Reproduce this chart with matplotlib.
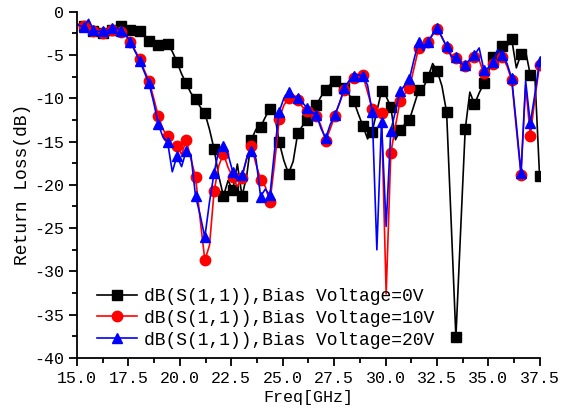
import matplotlib
matplotlib.use("Agg")
import matplotlib.pyplot as plt
import numpy as np

# sweep points where the markers sit, and the half-step points between them
freq_mark = np.linspace(15.34, 37.49, 50)
freq_mid = freq_mark - 0.226
freq_mid[0] = 15.0

# S11 (dB) at the marker points
s11_0v_mark = [-1.7, -2.3, -2.5, -2.1, -1.7, -2.1, -2.3, -3.4, -3.9, -3.8,
               -5.8, -8.3, -10.1, -11.7, -15.9, -21.3, -20.6, -21.3, -14.8, -13.3,
               -11.2, -15.1, -18.7, -14.0, -12.5, -10.8, -9.1, -8.0, -8.85, -10.3,
               -13.2, -13.85, -9.2, -11.0, -13.7, -12.5, -9.1, -7.6, -6.9, -11.6,
               -37.6, -13.6, -10.7, -8.3, -5.2, -4.0, -3.2, -4.9, -7.3, -19.0]
s11_10v_mark = [-1.7, -2.2, -2.5, -2.1, -2.4, -3.5, -5.5, -8.0, -12.1, -14.4,
                -15.5, -14.8, -19.1, -28.7, -20.7, -16.4, -19.1, -19.2, -15.5, -19.4,
                -22.0, -12.4, -10.0, -10.2, -11.5, -12.0, -14.9, -12.0, -9.0, -7.7,
                -7.35, -11.2, -11.7, -16.35, -10.3, -8.85, -4.2, -3.5, -2.0, -4.15,
                -5.4, -6.3, -5.3, -7.1, -6.1, -5.2, -7.9, -18.85, -14.35, -6.15]
s11_20v_mark = [-1.8, -2.1, -2.2, -1.9, -2.2, -3.5, -5.7, -8.3, -13.0, -15.1,
                -16.7, -16.05, -21.3, -26.05, -18.6, -15.5, -18.5, -18.9, -16.05, -21.35,
                -21.2, -11.55, -9.3, -10.0, -11.15, -11.9, -14.6, -11.9, -8.85, -7.4,
                -7.4, -11.6, -12.7, -13.75, -9.2, -7.8, -3.5, -3.5, -1.9, -4.0,
                -5.3, -6.15, -5.0, -6.7, -5.8, -5.0, -7.7, -18.65, -12.9, -5.7]

# S11 (dB) at the points in between
s11_0v_mid = [-1.5, -2.0, -2.4, -2.3, -1.9, -1.9, -2.2, -2.8, -3.7, -3.6,
              -4.6, -7.2, -9.4, -11.0, -13.6, -19.0, -19.5, -17.6, -19.0, -13.6,
              -12.2, -11.8, -17.2, -17.3, -13.2, -11.8, -9.8, -8.4, -8.2, -9.6,
              -11.8, -14.7, -11.5, -9.8, -14.8, -13.0, -10.8, -8.8, -6.0, -8.6,
              -24.5, -25.5, -9.3, -9.4, -7.0, -4.5, -4.0, -6.5, -4.6, -7.6]
s11_10v_mid = [-1.4, -1.9, -2.5, -2.4, -2.0, -2.8, -4.5, -6.8, -10.0, -13.6,
               -15.7, -16.5, -17.0, -24.0, -27.0, -17.8, -18.0, -20.2, -16.9, -17.6,
               -20.2, -17.5, -10.8, -9.6, -11.0, -11.2, -13.2, -13.5, -10.5, -8.2,
               -7.6, -9.3, -11.8, -32.6, -13.2, -9.5, -6.5, -4.0, -2.7, -2.9,
               -5.0, -6.0, -5.8, -5.6, -6.5, -5.6, -6.3, -13.5, -8.5, -10.0]
s11_20v_mid = [-1.5, -0.9, -2.3, -2.2, -1.9, -2.6, -4.6, -7.0, -10.5, -14.5,
               -18.5, -17.9, -16.5, -23.5, -22.0, -16.0, -16.5, -19.5, -17.0, -17.0,
               -20.5, -16.0, -10.0, -9.8, -10.5, -11.6, -13.5, -13.0, -10.5, -8.0,
               -7.3, -8.5, -27.5, -24.8, -11.5, -8.5, -5.5, -4.5, -2.6, -3.0,
               -5.2, -6.0, -5.5, -4.2, -6.5, -4.4, -6.0, -13.0, -8.0, -9.5]

labels = ["dB(S(1,1)),Bias Voltage=0V",
          "dB(S(1,1)),Bias Voltage=10V",
          "dB(S(1,1)),Bias Voltage=20V"]


def interleave(mid, mark):
    out = np.empty(2 * len(mark))
    out[0::2] = mid
    out[1::2] = mark
    return out


freq = interleave(freq_mid, freq_mark)

plt.rcParams['font.family'] = ['Liberation Mono', 'DejaVu Sans']
plt.rcParams['axes.unicode_minus'] = False

fig = plt.figure(figsize=(5.7, 4.13), dpi=100)
ax = fig.add_axes([0.135, 0.133, 0.812, 0.839])

ax.plot(freq, interleave(s11_0v_mid, s11_0v_mark), color='black', lw=1.2,
        marker='s', ms=6.5, markevery=(1, 2), label=labels[0])
ax.plot(freq, interleave(s11_10v_mid, s11_10v_mark), color='red', lw=1.2,
        marker='o', ms=7.5, markevery=(1, 2), label=labels[1])
ax.plot(freq, interleave(s11_20v_mid, s11_20v_mark), color='blue', lw=1.2,
        marker='^', ms=7, markevery=(1, 2), label=labels[2])

ax.set_xlim(15, 37.5)
ax.set_ylim(-40, 0)
ax.set_xticks(np.arange(15, 37.6, 2.5))
ax.set_xticklabels([f"{v:.1f}" for v in np.arange(15, 37.6, 2.5)])
ax.set_xticks(np.arange(16.25, 37.5, 2.5), minor=True)
ax.set_yticks(np.arange(-40, 1, 5))
ax.set_yticks(np.arange(-37.5, 0, 5), minor=True)
ax.tick_params(which='major', direction='out', length=6, width=1.3, labelsize=12)
ax.tick_params(which='minor', direction='out', length=3.5, width=1.3)
for side in ['top', 'right']:
    ax.spines[side].set_visible(False)
for side in ['left', 'bottom']:
    ax.spines[side].set_linewidth(1.3)

ax.set_xlabel("Freq[GHz]", fontsize=12, labelpad=3)
ax.set_ylabel("Return Loss(dB)", fontsize=13, labelpad=2)

ax.legend(loc='lower left', bbox_to_anchor=(0.02, -0.004), frameon=False,
          fontsize=13, handlelength=2.2, handletextpad=0.4, labelspacing=0.27,
          borderaxespad=0.2)

fig.savefig("out.png", dpi=100)
